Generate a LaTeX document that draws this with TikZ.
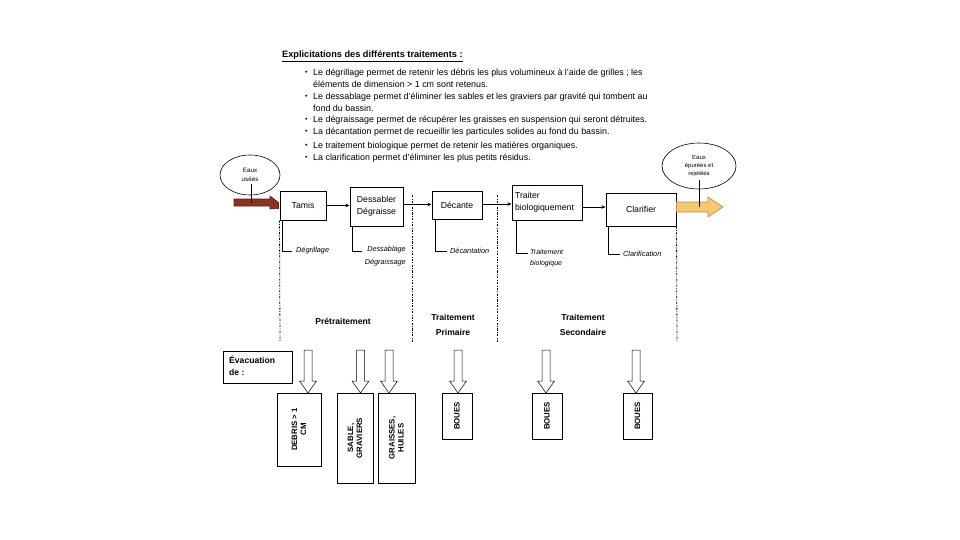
\documentclass[tikz,border=0pt]{standalone}
\usepackage{fontspec}
\setmainfont{Liberation Sans}
\usetikzlibrary{arrows.meta,calc,shapes.geometric}
\definecolor{brownarr}{RGB}{139,52,34}
\definecolor{brownedge}{RGB}{90,30,20}
\definecolor{yelarr}{RGB}{247,200,115}
\definecolor{yeledge}{RGB}{190,140,60}
\begin{document}
\begin{tikzpicture}[x=1pt,y=-1pt,
  txt/.style={font=\fontsize{8.9}{10}\selectfont, inner sep=0pt, anchor=west},
  proc/.style={draw, line width=1pt, inner sep=0pt, font=\fontsize{8.7}{12}\selectfont, align=center},
  ann/.style={font=\fontsize{7.3}{13}\selectfont\itshape, inner sep=0pt, align=right},
  annline/.style={line width=0.5pt},
  phase/.style={font=\fontsize{8.6}{15}\selectfont\bfseries, align=center, inner sep=0pt},
  vbox/.style={draw, line width=0.5pt, inner sep=0pt},
  vtext/.style={font=\fontsize{7.8}{9}\selectfont\bfseries, align=center, inner sep=0pt, rotate=90},
  flow/.style={line width=0.9pt, -{Stealth[length=4pt,width=3.5pt]}},
  dashd/.style={line width=0.8pt, dash pattern=on 2.2pt off 1.4pt on 0.8pt off 1.4pt},
  downarr/.pic={\draw[line width=0.5pt, fill=white] (-4,0) -- (4,0) -- (4,31) -- (8.5,31) -- (0,43) -- (-8.5,31) -- (-4,31) -- cycle;}
]
\useasboundingbox (0,0) rectangle (960,540);

% Title and bullet list
\node[txt, font=\fontsize{9.2}{10}\selectfont\bfseries] (title) at (282,56) {\underline{Explicitations des différents traitements :}};
\foreach \y/\t in {73/{Le dégrillage permet de retenir les débris les plus volumineux à l'aide de grilles ; les},
                   97/{Le dessablage permet d'éliminer les sables et les graviers par gravité qui tombent au},
                   120/{Le dégraissage permet de récupérer les graisses en suspension qui seront détruites.},
                   132/{La décantation permet de recueillir les particules solides au fond du bassin.},
                   146/{Le traitement biologique permet de retenir les matières organiques.},
                   158/{La clarification permet d'éliminer les plus petits résidus.}}{
  \node[txt, font=\fontsize{7}{8}\selectfont] at (305,\y) {•};
  \node[txt] at (313,\y) {\t};
}
\node[txt] (l2) at (313,84) {éléments de dimension > 1 cm sont retenus.};
\node[txt] (l4) at (313,108) {fond du bassin.};

% Process boxes
\node[proc, minimum width=46, minimum height=29] (tamis) at (303,205.5) {Tamis};
\node[proc, minimum width=53, minimum height=39] (dess) at (376.5,206.5) {Dessabler\\Dégraisse};
\node[proc, minimum width=50, minimum height=28] (dec) at (457,205) {Décante};
\node[proc, minimum width=70, minimum height=35, align=left, text width=64] (bio) at (547,202.5) {Traiter\\biologiquement};
\node[proc, minimum width=70, minimum height=33] (clar) at (641,209.5) {Clarifier};

\draw[flow] (tamis.east) -- (tamis.east -| dess.west);
\draw[flow] ($(dess.east)+(0,-2)$) -- ($(dess.east -| dec.west)+(0,-2)$);
\draw[flow] ($(dec.east)+(0,-1)$) -- ($(dec.east -| bio.west)+(0,-1)$);
\draw[flow] ($(bio.east)+(0,4.5)$) -- ($(bio.east -| clar.west)+(0,4.5)$);

% Input arrow and ellipse
\node[draw, ellipse, line width=0.6pt, minimum width=60, minimum height=40, inner sep=0pt,
      font=\fontsize{6.3}{9.5}\selectfont, align=center] (in) at (250,175) {Eaux\\usées};
\draw[line width=0.6pt, draw=brownedge, fill=brownarr]
  (234,199) -- (270,199) -- (270,196) -- ($(tamis.west)+(-1,-3)$) -- ($(tamis.west)+(-1,0)$)
  -- ($(tamis.west)+(-1,3)$) -- (270,209) -- (270,206) -- (234,206) -- cycle;
\coordinate (inj) at (251,202.5);
\draw[line width=0.6pt] (251,184) -- (inj);

% Output arrow and ellipse
\draw[line width=0.6pt, draw=yeledge, fill=yelarr]
  ($(clar.east)+(0,-7.5)$) -- (708,202) -- (708,197) -- (723,207) -- (708,217) -- (708,212)
  -- ($(clar.east)+(0,2.5)$) -- cycle;
\node[draw, ellipse, line width=0.6pt, minimum width=74, minimum height=46, inner sep=0pt,
      font=\fontsize{6}{8}\selectfont, align=center] (out) at (699,166) {Eaux\\épurées et\\rejetées};
\coordinate (outj) at (699,207);
\draw[line width=0.6pt] (699,180) -- (outj);

% Annotations
\node[ann, anchor=west] (a1) at (296,251) {Dégrillage};
\draw[annline] ($(tamis.south west)+(3,0)$) |- ($(a1.west)+(-4,0)$);
\node[ann, anchor=north east] (a2) at (406,246) {Dessablage\\Dégraissage};
\draw[annline] ($(dess.south west)+(3,0)$) |- ($(a2.north west)+(-3,5)$);
\node[ann, anchor=west] (a3) at (450,251) {Décantation};
\draw[annline] ($(dec.south west)+(4,0)$) |- ($(a3.west)+(-3,0)$);
\node[ann, anchor=north west, align=left, font=\fontsize{7}{11}\selectfont\itshape] (a4) at (530,249) {Traitement\\biologique};
\draw[annline] ($(bio.south west)+(5,0)$) |- ($(a4.north west)+(-2,4)$);
\node[ann, anchor=west] (a5) at (623,254) {Clarification};
\draw[annline] ($(clar.south west)+(3,0)$) |- ($(a5.west)+(-3,0)$);

% Dash-dot separators
\draw[dashd] (tamis.south west) -- (280,342);
\draw[dashd] (412,195) -- (412,342);
\draw[dashd] (497,195) -- (497,342);
\draw[dashd] (clar.south east) -- (677,342);

% Phase labels
\node[phase] (p1) at (343,321) {Prétraitement};
\node[phase] (p2) at (453,325) {Traitement\\Primaire};
\node[phase] (p3) at (583,325) {Traitement\\Secondaire};

% Evacuation
\node[draw, line width=0.5pt, minimum width=69, minimum height=32, inner sep=0pt] (evac) at (257.5,367.5) {};
\node[font=\fontsize{8.6}{12}\selectfont\bfseries, align=left, anchor=north west, inner sep=0pt] at (229,356) {Évacuation\\de :};

\node[vbox, minimum width=44, minimum height=73] (debris) at (299,429.5) {};
\node[vtext] at (debris) {DEBRIS > 1\\CM};
\node[vbox, minimum width=36, minimum height=90] (sable) at (355,438) {};
\node[vtext] at (sable) {SABLE,\\GRAVIERS};
\node[vbox, minimum width=37, minimum height=90] (graisse) at (396.5,438) {};
\node[vtext] at (graisse) {GRAISSES,\\HUILES};
\node[vbox, minimum width=30, minimum height=46] (b1) at (457,416) {};
\node[vtext] at (b1) {BOUES};
\node[vbox, minimum width=30, minimum height=46] (b2) at (547,416) {};
\node[vtext] at (b2) {BOUES};
\node[vbox, minimum width=29, minimum height=46] (b3) at (637.5,416) {};
\node[vtext] at (b3) {BOUES};

\pic at (308,350) {downarr};
\pic at (360.5,350) {downarr};
\pic at (389,350) {downarr};
\pic at (458,350) {downarr};
\pic at (546,350) {downarr};
\pic at (636,350) {downarr};
\end{tikzpicture}
\end{document}
